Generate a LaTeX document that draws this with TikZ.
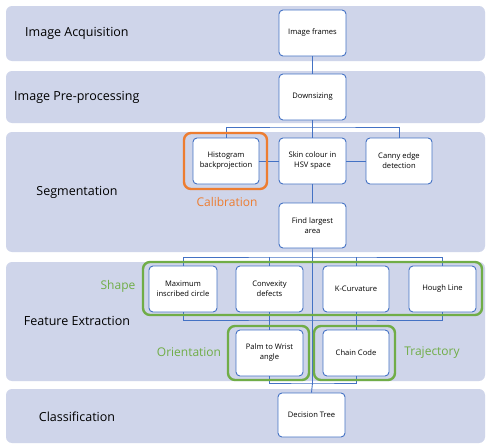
\documentclass[tikz,border=0pt]{standalone}
\usepackage{fontspec}
\setmainfont{Open Sans}
\definecolor{bandfill}{HTML}{CFD5EA}
\definecolor{boxblue}{HTML}{4472C4}
\definecolor{grn}{HTML}{70AD47}
\definecolor{org}{HTML}{ED7D31}
\begin{document}
\begin{tikzpicture}[x=1pt,y=-1pt,
  band/.style={fill=bandfill,draw=none,rounded corners=6pt},
  bandlabel/.style={font=\fontsize{12.5}{14}\selectfont,text=black,inner sep=0pt},
  stepbox/.style={draw=boxblue,fill=white,line width=0.9pt,rounded corners=4pt,align=center,font=\fontsize{7.6}{10}\selectfont,inner sep=0pt},
  conn/.style={draw=boxblue,line width=0.9pt},
  grp/.style={draw=grn,line width=2.4pt,rounded corners=7pt},
  grplabel/.style={text=grn,font=\fontsize{12}{14}\selectfont,inner sep=0pt},
]
\useasboundingbox (0,0) rectangle (491,447);
\fill[white] (0,0) rectangle (491,447);
% bands
\path[band] (6,6) rectangle (485,61);
\path[band] (6,71) rectangle (485,123);
\path[band] (6,132) rectangle (485,252);
\path[band] (6,262) rectangle (485,381);
\path[band] (6,389) rectangle (485,443);
% band labels
\node[bandlabel,anchor=west] (la) at (25,33) {Image Acquisition};
\node[bandlabel,anchor=west] (lp) at (14,97) {Image Pre-processing};
\node[bandlabel] (ls) at (77,192) {Segmentation};
\node[bandlabel] (lf) at (77,321) {Feature Extraction};
\node[bandlabel] (lc) at (77,417) {Classification};
% boxes
\node[stepbox,minimum width=67pt,minimum height=46pt] (frames) at (312.5,33) {Image frames};
\node[stepbox,minimum width=67pt,minimum height=46pt] (down) at (312.5,97) {Downsizing};
\node[stepbox,minimum width=66pt,minimum height=46pt] (hist) at (226,161) {Histogram\\backprojection};
\node[stepbox,minimum width=67pt,minimum height=46pt] (skin) at (312.5,161) {Skin colour in\\HSV space};
\node[stepbox,minimum width=66pt,minimum height=46pt] (canny) at (399,161) {Canny edge\\detection};
\node[stepbox,minimum width=67pt,minimum height=45pt] (largest) at (312.5,225.5) {Find largest\\area};
\node[stepbox,minimum width=68pt,minimum height=46pt] (maxc) at (183,289) {Maximum\\inscribed circle};
\node[stepbox,minimum width=67pt,minimum height=46pt] (conv) at (269.5,289) {Convexity\\defects};
\node[stepbox,minimum width=66pt,minimum height=46pt] (kcurv) at (356,289) {K-Curvature};
\node[stepbox,minimum width=67pt,minimum height=46pt] (hough) at (442.5,289) {Hough Line};
\node[stepbox,minimum width=67pt,minimum height=46pt] (palm) at (269.5,353) {Palm to Wrist\\angle};
\node[stepbox,minimum width=66pt,minimum height=46pt] (chain) at (356,353) {Chain Code};
\node[stepbox,minimum width=67pt,minimum height=44pt] (tree) at (311.5,415) {Decision Tree};
% junction coordinates
\coordinate (j1) at (312.5,127);
\coordinate (j2) at (312.5,257);
\coordinate (j3) at (312.5,320);
\coordinate (j4) at (312.5,383);
% connectors
\draw[conn] (frames.south) -- (down.north);
\draw[conn] (down.south) -- (skin.north);
\draw[conn] (hist.north) |- (j1) -| (canny.north);
\draw[conn] (hist.east) -- (skin.west);
\draw[conn] (skin.east) -- (canny.west);
\draw[conn] (skin.south) -- (largest.north);
\draw[conn] (largest.south) -- (j2);
\draw[conn] (maxc.north) |- (j2) -| (hough.north);
\draw[conn] (conv.north) -- (conv.north |- j2);
\draw[conn] (kcurv.north) -- (kcurv.north |- j2);
\draw[conn] (maxc.south) |- (j3) -| (hough.south);
\draw[conn] (j2) -- (j4);
\draw[conn] (conv.south) -- (palm.north);
\draw[conn] (kcurv.south) -- (chain.north);
\draw[conn] (palm.south) |- (j4) -| (chain.south);
\draw[conn] (j4) -- (tree.north);
% group frames
\draw[draw=org,line width=2.4pt,rounded corners=7pt] (184,133) rectangle (267,189);
\node[text=org,font=\fontsize{12}{14}\selectfont,inner sep=0pt] (calib) at (227,202) {Calibration};
\draw[grp] (143,262) rectangle (482,315);
\draw[grp] (228,326) rectangle (309,380);
\draw[grp] (314,326) rectangle (395,380);
\node[grplabel] (shape) at (118,286) {Shape};
\node[grplabel] (orient) at (189,352) {Orientation};
\node[grplabel] (traj) at (432,353) {Trajectory};
\end{tikzpicture}
\end{document}
